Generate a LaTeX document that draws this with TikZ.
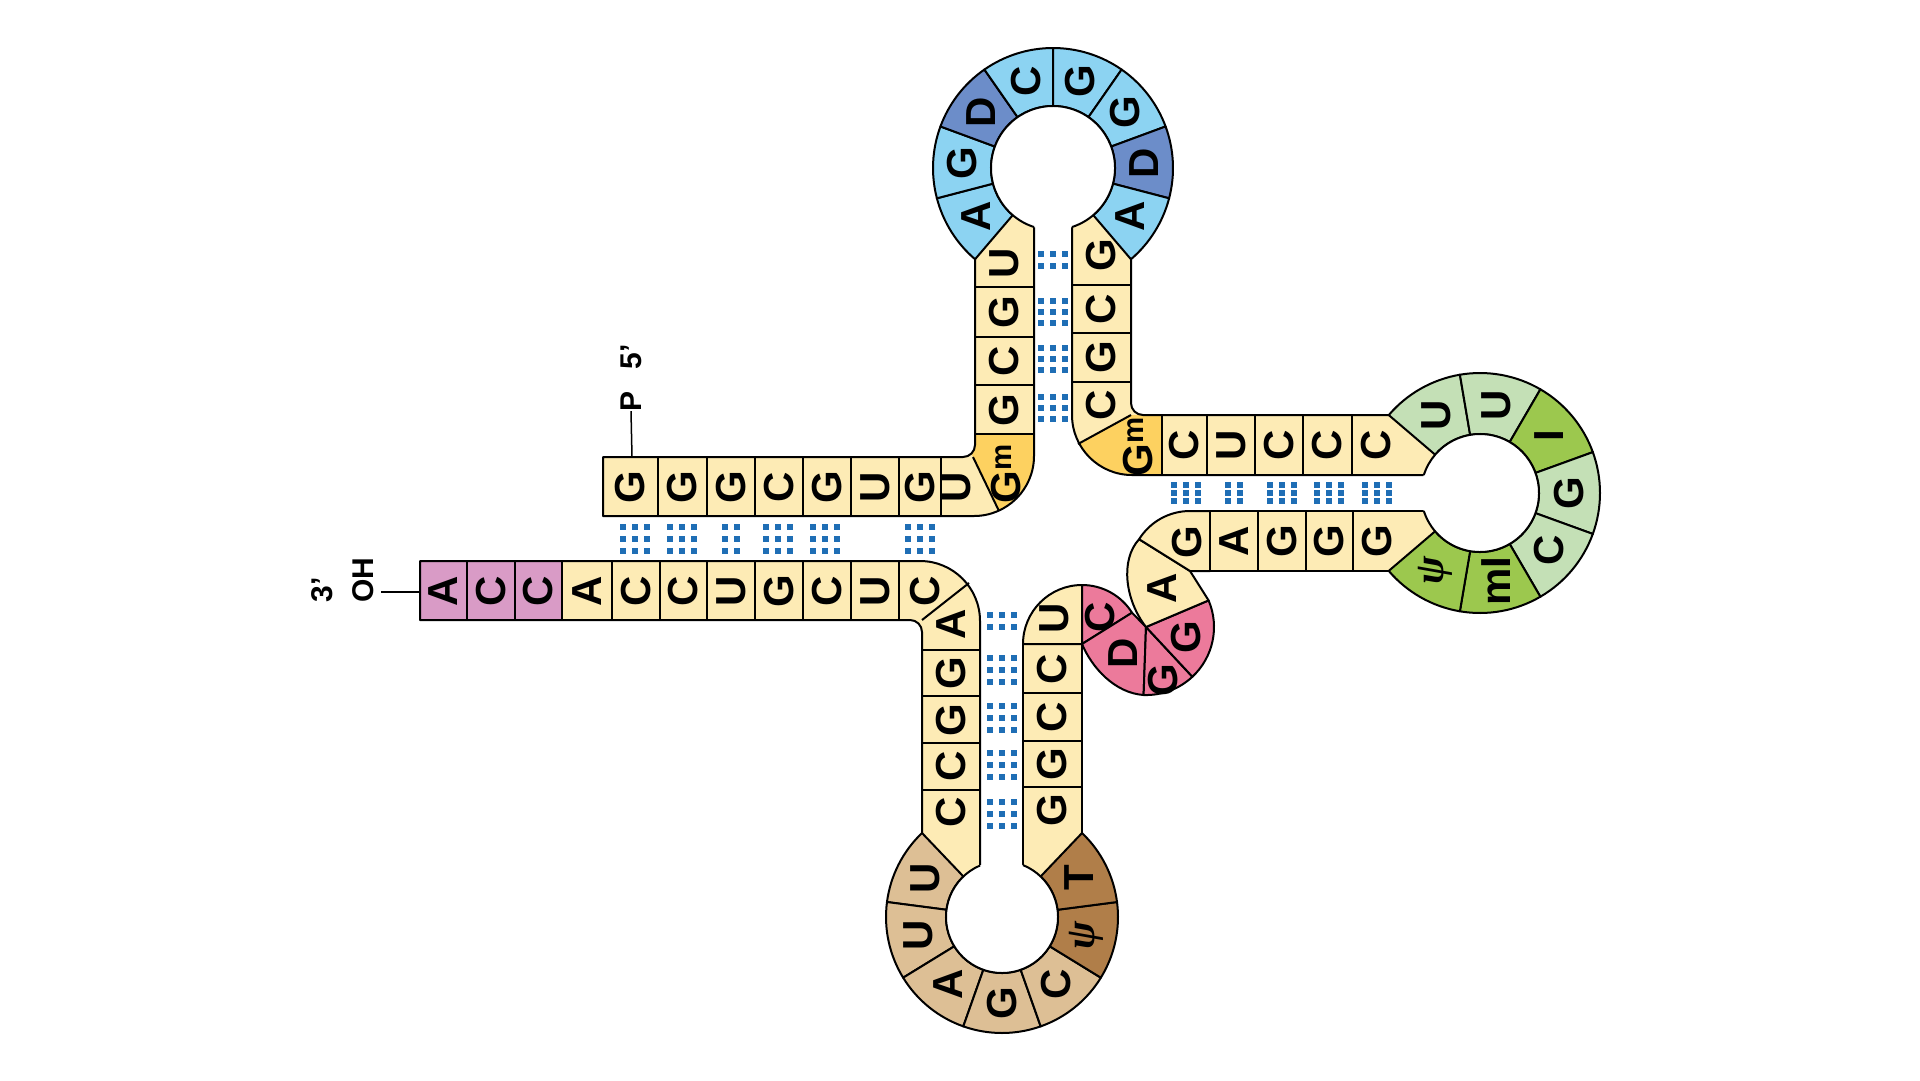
\documentclass[tikz,border=0pt]{standalone}
\usepackage{fontspec}
\setmainfont{Liberation Sans}
\newfontfamily\psif{Liberation Serif}
\newcommand\psy{{\psif\itshape ψ}}
\definecolor{yel}{HTML}{FDEBB5}
\definecolor{gmc}{HTML}{FDD160}
\definecolor{lb}{HTML}{8CD3F2}
\definecolor{db}{HTML}{6C8DC9}
\definecolor{lg}{HTML}{C4E0B6}
\definecolor{dg}{HTML}{9CC84E}
\definecolor{tanc}{HTML}{DDBF95}
\definecolor{brc}{HTML}{B07E49}
\definecolor{pk}{HTML}{EC7A9B}
\definecolor{acc}{HTML}{D99BC6}
\definecolor{dotc}{HTML}{1F6EB5}
\tikzset{
 ol/.style={draw=black,line width=2pt,line join=round},
 lt/.style={rotate=90,font=\fontsize{42}{42}\selectfont\bfseries,inner sep=0pt},
 lab/.style={rotate=90,font=\fontsize{30}{30}\selectfont\bfseries,inner sep=0pt},
 pA/.style={insert path={(603,-457) -- (963,-457) arc[start angle=-90,end angle=0,radius=12] -- (975,-200) -- (1034,-200) -- (1034,-456) arc[start angle=0,end angle=-90,radius=60] -- (603,-516) -- cycle}},
 pB/.style={insert path={(1072,-200) -- (1131,-200) -- (1131,-403) arc[start angle=180,end angle=270,radius=12] -- (1440,-415) -- (1440,-475) -- (1132,-475) arc[start angle=270,end angle=180,radius=60] -- cycle}},
 pC/.style={insert path={(420,-561) -- (920,-561) arc[start angle=90,end angle=0,radius=60] -- (980,-880) -- (922,-880) -- (922,-632) arc[start angle=0,end angle=90,radius=12] -- (420,-620) -- cycle}}
}
\newcommand\ringdraw[6]{%
\begin{scope}[shift={(#1,#2)}]
\foreach \rc/\lx [count=\k from 0] in \ringlist {
 \pgfmathsetmacro\aa{#5+\k*#6}
 \pgfmathsetmacro\ab{#5+(\k+1)*#6}
 \pgfmathsetmacro\am{(\aa+\ab)/2}
 \filldraw[fill=\rc,ol] (\aa:#4) arc[start angle=\aa,end angle=\ab,radius=#4] -- (\ab:#3) arc[start angle=\ab,end angle=\aa,radius=#3] -- cycle;
 \node[lt] at (\am:{(#3+#4)/2}) {\lx};
}
\fill[white] (0,0) circle[radius=#3];
\end{scope}}
\newcommand\bp[5]{\foreach \i in {1,...,#3}{\foreach \j in {1,...,#4}{\fill[dotc] ({#1+(\i-(#3+1)/2)*12-2.75},{#2+(\j-(#4+1)/2)*#5-2.75}) rectangle ++(5.5,5.5);}}}
\begin{document}
\begin{tikzpicture}[x=1pt,y=1pt]
\useasboundingbox (0,0) rectangle (1920,-1080);
\fill[white] (0,0) rectangle (1920,-1080);
% shape A
\fill[yel,pA];
\begin{scope}\clip[pA]; \fill[gmc] (962,-434)--(1100,-434)--(1100,-560)--(1021,-557)--cycle;\end{scope}
\draw[ol,pA];
\foreach \x in {658,707,755,803,851,899,941} \draw[ol] (\x,-457)--(\x,-516);
\foreach \y in {434,385,337,287} \draw[ol] (975,-\y)--(1034,-\y);
\draw[ol] (973,-457)--(999,-511);
% shape B
\fill[yel,pB];
\begin{scope}\clip[pB]; \fill[gmc] (1131,-415)--(1162,-415)--(1162,-490)--(1050,-490)--(1050,-459)--cycle;\end{scope}
\draw[ol,pB];
\foreach \y in {285,333,382} \draw[ol] (1072,-\y)--(1131,-\y);
\draw[ol] (1131,-415)--(1078,-444);
\foreach \x in {1162,1207,1255,1303,1352} \draw[ol] (\x,-415)--(\x,-475);
% shape C
\fill[yel,pC];
\fill[acc] (420,-561) rectangle (562,-620);
\draw[ol,pC];
\foreach \x in {467,515,562,612,660,707,755,803,851,899} \draw[ol] (\x,-561)--(\x,-620);
\foreach \y in {650,696,743,790} \draw[ol] (922,-\y)--(980,-\y);
\draw[ol] (922,-620)--(969,-583);
% anticodon right strand
\filldraw[fill=yel,ol] (1023,-644) rectangle (1082,-880);
\foreach \y in {693,741,787} \draw[ol] (1023,-\y)--(1082,-\y);
% variable loop snake
\filldraw[fill=yel,ol] (1082,-644) -- (1023,-644) arc[start angle=180,end angle=90,radius=59] -- cycle;
\filldraw[fill=pk,ol] (1082,-644) -- (1082,-585) arc[start angle=90,end angle=32,radius=59] -- cycle;
\filldraw[fill=pk,ol] (1082,-644) -- (1132,-612.7) -- (1146,-627) -- (1143.6,-695) .. controls (1115,-693) and (1092,-668) .. (1082,-644) -- cycle;
\filldraw[fill=pk,ol] (1146,-627) -- (1143.6,-695) arc[start angle=-92,end angle=-47,radius=68] -- cycle;
\filldraw[fill=pk,ol] (1146,-627) -- ++(-47:68) arc[start angle=-47,end angle=23,radius=68] -- cycle;
\filldraw[fill=yel,ol] (1146,-627) -- (1208.6,-600.4) -- (1190,-571) -- (1139.1,-539.2) .. controls (1120,-560) and (1125,-600) .. (1146,-627) -- cycle;
\filldraw[fill=yel,ol] (1190,-571) -- (1139.1,-539.2) arc[start angle=148,end angle=90,radius=60] -- (1210,-511) -- (1210,-571) -- cycle;
\filldraw[fill=yel,ol] (1210,-511) rectangle (1440,-571);
\foreach \x in {1258,1306,1353} \draw[ol] (\x,-511)--(\x,-571);
% rings
\def\ringlist{tanc/U,tanc/U,tanc/A,tanc/G,tanc/C,brc/\psy,brc/T}
\ringdraw{1002}{-917}{56}{116}{133.6}{38.97}
\draw[ol] (1002,-917) ++(113.1:56) arc[start angle=113.1,end angle=428,radius=56];
\def\ringlist{lb/A,lb/G,db/D,lb/C,lb/G,lb/G,db/D,lb/A}
\ringdraw{1053}{-168}{62}{120}{229.5}{-34.875}
\draw[ol] (1053,-168) ++(252.2:62) arc[start angle=252.2,end angle=-72.2,radius=62];
\def\ringlist{lg/U,lg/U,dg/I,lg/G,lg/C,dg/mI,dg/\psy}
\ringdraw{1480}{-493}{59}{120}{139.5}{-39.86}
\draw[ol] (1480,-493) ++(162.2:59) arc[start angle=162.2,end angle=-162.2,radius=59];
% letters: acceptor 5' strand
\foreach \x/\l [count=\n] in {630/G,682/G,731/G,779/C,827/G,875/U,920/G,956/U} \node[lt] (a\n) at (\x,-487) {\l};
\node[lt] (agm) at (1006,-474) {G\textsuperscript{m}};
\foreach \y/\l [count=\n] in {263/U,312/G,361/C,410/G} \node[lt] (dl\n) at (1004,-\y) {\l};
\foreach \y/\l [count=\n] in {255/G,309/C,357/G,405/C} \node[lt] (dr\n) at (1101,-\y) {\l};
\node[lt] (bgm) at (1138,-447) {G\textsuperscript{m}};
\foreach \x/\l [count=\n] in {1184/C,1231/U,1279/C,1327/C,1376/C} \node[lt] (tu\n) at (\x,-445) {\l};
\foreach \x/\l [count=\n] in {1234/A,1282/G,1329/G,1377/G} \node[lt] (tl\n) at (\x,-541) {\l};
\foreach \x/\l [count=\n] in {443/A,491/C,538/C,587/A,636/C,683/C,731/U,779/G,827/C,875/U,925/C} \node[lt] (b\n) at (\x,-591) {\l};
\foreach \y/\l [count=\n] in {624/A,673/G,720/G,766/C,812/C} \node[lt] (al\n) at (951,-\y) {\l};
\foreach \y/\l [count=\n] in {669/C,717/C,764/G,810/G} \node[lt] (ar\n) at (1052,-\y) {\l};
\node[lt] (vu) at (1054,-618) {U};
\node[lt] (vc) at (1100,-617) {C};
\node[lt] (vd) at (1123,-653) {D};
\node[lt] (vg1) at (1163,-680) {G};
\node[lt] (vg2) at (1186,-637) {G};
\node[lt] (va) at (1162,-588) {A};
\node[lt] (vg3) at (1187,-542) {G};
% base pair dots
\bp{635}{-539}{3}{3}{12}
\bp{682}{-539}{3}{3}{12}
\bp{731}{-539}{2}{3}{12}
\bp{778}{-539}{3}{3}{12}
\bp{825}{-539}{3}{3}{12}
\bp{920}{-539}{3}{3}{12}
\bp{1053}{-260}{3}{2}{12}
\bp{1053}{-312}{3}{3}{11}
\bp{1053}{-359}{3}{3}{11}
\bp{1053}{-408}{3}{3}{11}
\bp{1186}{-493}{3}{3}{8}
\bp{1234}{-493}{2}{3}{8}
\bp{1282}{-493}{3}{3}{8}
\bp{1329}{-493}{3}{3}{8}
\bp{1377}{-493}{3}{3}{8}
\bp{1002}{-621}{3}{2}{12}
\bp{1002}{-670}{3}{3}{12}
\bp{1002}{-718}{3}{3}{12}
\bp{1002}{-765}{3}{3}{12}
\bp{1002}{-814}{3}{3}{12}
% end labels
\node[lab] (p) at (631,-401) {P};
\node[lab] (p5) at (631,-357) {5’};
\coordinate (p5end) at (632,-457);
\draw[line width=1.5pt] (p.west) -- (p5end);
\node[lab] (oh) at (363,-580) {OH};
\node[lab] (t3) at (322,-590) {3’};
\coordinate (ohend) at (420,-592);
\draw[line width=1.5pt] (381,-592) -- (ohend);
\end{tikzpicture}
\end{document}
